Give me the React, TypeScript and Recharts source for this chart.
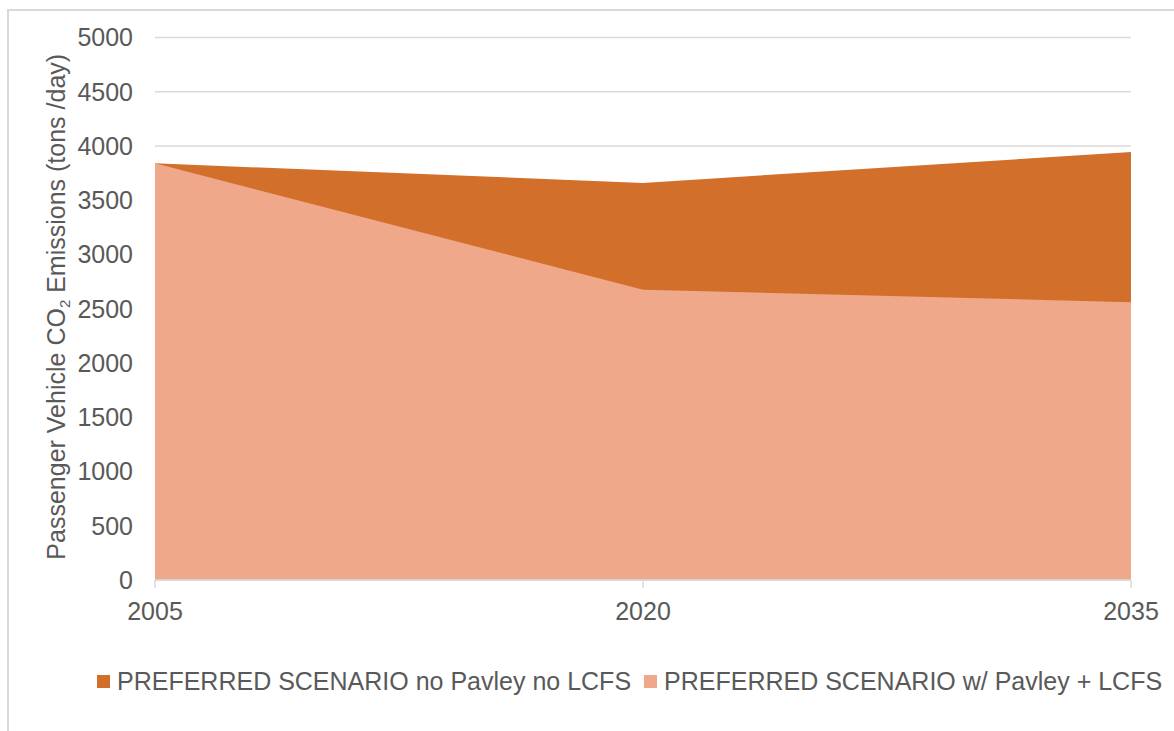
import { AreaChart, Area, XAxis, YAxis, CartesianGrid, Legend } from 'recharts'

// passenger vehicle CO2 emissions, tons/day
const years = ['2005', '2020', '2035']
const noPavleyNoLcfs = [3840, 3660, 3945]
const withPavleyLcfs = [3840, 2675, 2560]
const yTicks = [0, 500, 1000, 1500, 2000, 2500, 3000, 3500, 4000, 4500, 5000]

const seriesNames = [
  'PREFERRED SCENARIO no Pavley no LCFS',
  'PREFERRED SCENARIO w/ Pavley + LCFS',
]
const seriesColors = ['#D2702B', '#F0A88A']

const data = years.map((year, i) => ({
  year,
  noPavley: noPavleyNoLcfs[i],
  withPavley: withPavleyLcfs[i],
}))

const FONT = '"Liberation Sans", Arial, sans-serif'
const TEXT = '#595959'
const GRID = '#d9d9d9'

function YLabel({ viewBox }: any) {
  const x = viewBox.x + 10
  const y = viewBox.y + viewBox.height / 2 - 2
  return (
    <text
      transform={`translate(${x},${y}) rotate(-90)`}
      textAnchor="middle"
      fill={TEXT}
      fontSize={25}
      fontFamily={FONT}
    >
      <tspan>Passenger Vehicle CO</tspan>
      <tspan fontSize={15} dy={5}>2</tspan>
      <tspan dy={-5}> Emissions (tons /day)</tspan>
    </text>
  )
}

function LegendContent() {
  return (
    <div style={{ display: 'flex', alignItems: 'center', fontFamily: FONT, fontSize: 25, color: TEXT, whiteSpace: 'nowrap' }}>
      {seriesNames.map((name, i) => (
        <div key={name} style={{ display: 'flex', alignItems: 'center', marginRight: 13 }}>
          <span style={{ width: 13, height: 13, background: seriesColors[i], marginRight: 7, display: 'inline-block' }} />
          <span>{name}</span>
        </div>
      ))}
    </div>
  )
}

export default function App() {
  return (
    <div style={{ position: 'absolute', left: 0, top: 0, width: 1174, height: 731, overflow: 'hidden', background: '#fff' }}>
      <div
        style={{
          position: 'absolute',
          left: 7,
          top: 9,
          width: 1250,
          height: 800,
          border: '2px solid #d9d9d9',
        }}
      />
      <div style={{ position: 'absolute', left: 0, top: 0 }}>
        <AreaChart
          width={1174}
          height={731}
          data={data}
          margin={{ top: 37.5, right: 43, bottom: 121, left: 55 }}
        >
          <CartesianGrid vertical={false} stroke={GRID} strokeWidth={1.5} />
          <XAxis
            dataKey="year"
            height={30}
            stroke={GRID}
            strokeWidth={1.5}
            tickSize={8}
            tickMargin={14}
            tick={{ fill: TEXT, fontSize: 25, fontFamily: FONT }}
          />
          <YAxis
            width={100}
            domain={[0, 5000]}
            ticks={yTicks}
            axisLine={false}
            tickLine={false}
            tickMargin={16}
            tick={{ fill: TEXT, fontSize: 25, fontFamily: FONT }}
            label={{ content: YLabel }}
          />
          <Legend
            layout="horizontal"
            verticalAlign="middle"
            align="center"
            content={<LegendContent />}
            wrapperStyle={{ left: 97, top: 667, width: 'auto' }}
          />
          <Area
            type="linear"
            dataKey="noPavley"
            name={seriesNames[0]}
            stroke="none"
            fill={seriesColors[0]}
            fillOpacity={1}
            isAnimationActive={false}
          />
          <Area
            type="linear"
            dataKey="withPavley"
            name={seriesNames[1]}
            stroke="none"
            fill={seriesColors[1]}
            fillOpacity={1}
            isAnimationActive={false}
          />
        </AreaChart>
      </div>
    </div>
  )
}
